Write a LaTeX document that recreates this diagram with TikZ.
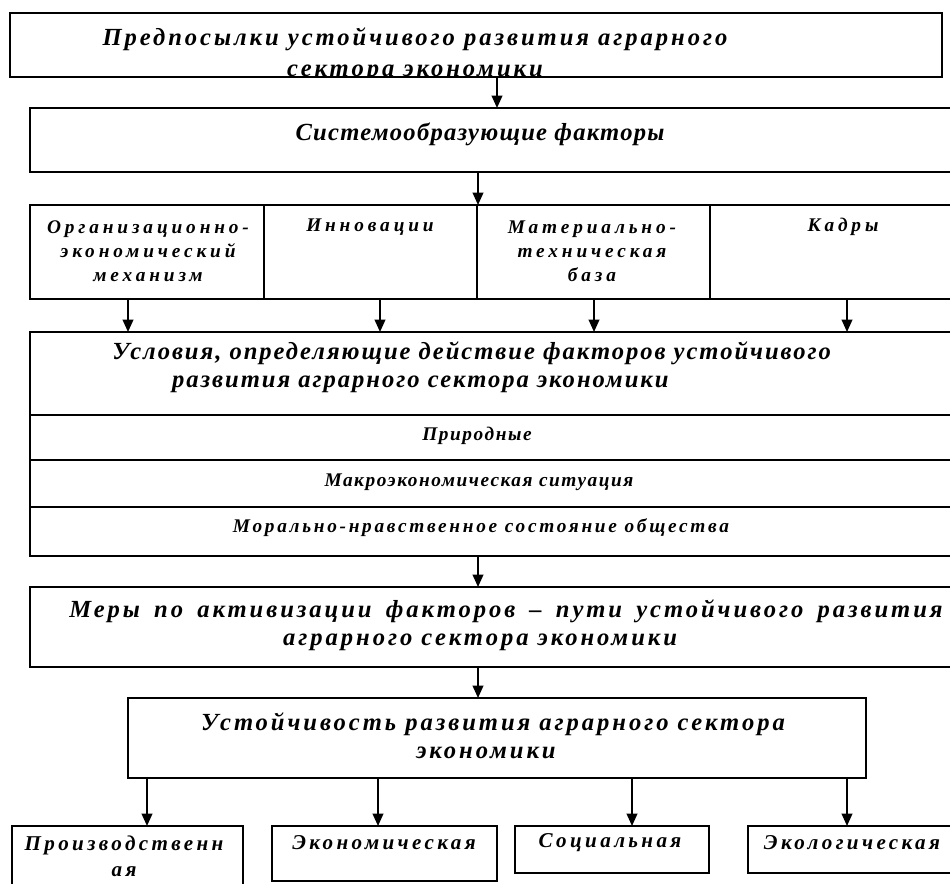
\documentclass[tikz,border=0pt]{standalone}
\usepackage{fontspec}
\setmainfont{Liberation Serif}
\newfontfamily\hdfont{Liberation Serif}
\usetikzlibrary{fit, arrows.meta}

\tikzset{
    box/.style={draw, line width=0.9pt, inner sep=0pt, outer sep=0pt},
    hd/.style={font={\fontsize{14}{15.9}\hdfont\bfseries\itshape\addfontfeature{LetterSpace=#1}}, align=center, inner sep=0pt},
    hd/.default=8,
    md/.style={font={\fontsize{11}{13.6}\hdfont\bfseries\itshape\addfontfeature{LetterSpace=#1}}, align=center, inner sep=0pt},
    md/.default=14,
    bt/.style={font={\fontsize{12}{14.7}\hdfont\bfseries\itshape\addfontfeature{LetterSpace=16}}, align=center, inner sep=0pt},
    arr/.style={-{Triangle[length=7pt, width=6pt]}, line width=1.1pt}
}

\begin{document}
\begin{tikzpicture}[x=0.02cm, y=-0.02cm]
    \useasboundingbox (0,0) rectangle (950,883);
    \clip (0,0) rectangle (950,883);
    % Preconditions
    \node[box, fit={(10,13) (942,77)}] (pre) {};
    \begin{scope}
        \clip (pre.south west) rectangle (pre.north east);
        \node[hd=12] (preT) at (415,55) {Предпосылки устойчивого развития аграрного\\[2pt] сектора экономики};
    \end{scope}
    % System factors
    \node[box, fit={(30,108) (960,172)}] (sys) {};
    \node[hd=5] (sysT) at (480,134) {Системообразующие факторы};
    % Factor row
    \node[box, fit={(30,205) (264,299)}] (org) {};
    \node[box, fit={(264,205) (477,299)}] (inn) {};
    \node[box, fit={(477,205) (710,299)}] (mat) {};
    \node[box, fit={(710,205) (960,299)}] (kad) {};
    \node[md=20] (orgT) at (148,251) {Организационно-\\экономический\\механизм};
    \node[md=20] (innT) at (370,227) {Инновации};
    \node[md=20] (matT) at (592,251) {Материально-\\техническая\\база};
    \node[md=20] (kadT) at (843,227) {Кадры};
    % Conditions
    \node[box, fit={(30,332) (960,415)}] (cond) {};
    \node[box, fit={(30,415) (960,460)}] (nat) {};
    \node[box, fit={(30,460) (960,507)}] (mac) {};
    \node[box, fit={(30,507) (960,556)}] (mor) {};
    \node[hd, align=left, anchor=west] (condT) at (112,367) {Условия, определяющие действие факторов устойчивого\\\hspace*{34pt}развития аграрного сектора экономики};
    \node[md=8] (natT) at (477,436) {Природные};
    \node[md=8] (macT) at (479,482) {Макроэкономическая ситуация};
    \node[md] (morT) at (481,528) {Морально-нравственное состояние общества};
    % Measures
    \node[box, fit={(30,587) (960,667)}] (mea) {};
    \node[hd=12] (meaT) at (506,625) {\makebox[497pt][s]{Меры по активизации факторов – пути устойчивого развития}\\\hspace*{-29.5pt}аграрного сектора экономики};
    % Sustainability
    \node[box, fit={(128,698) (866,778)}] (ust) {};
    \node[hd=12] (ustT) at (493,736) {Устойчивость развития аграрного сектора\\\hspace*{-8pt}экономики};
    % Components
    \node[box, fit={(12,826) (243,900)}] (prod) {};
    \node[box, fit={(272,826) (497,881)}] (econ) {};
    \node[box, fit={(515,826) (709,873)}] (soc) {};
    \node[box, fit={(748,826) (960,873)}] (eco) {};
    \node[bt] (prodT) at (124,856) {Производственн\\ая};
    \node[bt] (econT) at (384,843) {Экономическая};
    \node[bt] (socT) at (610,843) {Социальная};
    \node[bt] (ecoT) at (852,843) {Экологическая};
    % Arrows
    \coordinate (a1) at (497,0);
    \coordinate (a2) at (478,0);
    \draw[arr] (pre.south -| a1) -- (sys.north -| a1);
    \draw[arr] (sys.south -| a2) -- (inn.north east -| a2);
    \foreach \x/\n in {128/org, 380/inn, 594/mat, 847/kad}
        \draw[arr] (\n.south -| \x,0) -- (cond.north -| \x,0);
    \draw[arr] (mor.south -| a2) -- (mea.north -| a2);
    \draw[arr] (mea.south -| a2) -- (ust.north -| a2);
    \foreach \x/\n in {147/prod, 378/econ, 632/soc, 847/eco}
        \draw[arr] (ust.south -| \x,0) -- (\n.north -| \x,0);
\end{tikzpicture}
\end{document}
